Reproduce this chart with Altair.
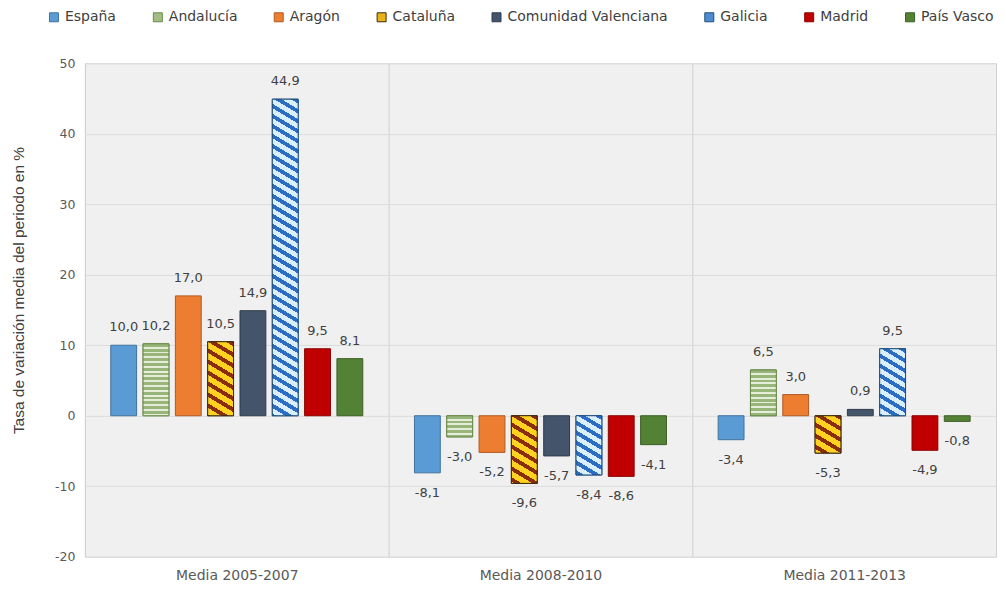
import altair as alt
import pandas as pd

# ---------------- data ----------------
periodos = ["Media 2005-2007", "Media 2008-2010", "Media 2011-2013"]
regiones = ["España", "Andalucía", "Aragón", "Cataluña", "Comunidad Valenciana",
            "Galicia", "Madrid", "País Vasco"]

espana = [10.0, -8.1, -3.4]
andalucia = [10.2, -3.0, 6.5]
aragon = [17.0, -5.2, 3.0]
cataluna = [10.5, -9.6, -5.3]
com_valenciana = [14.9, -5.7, 0.9]
galicia = [44.9, -8.4, 9.5]
madrid = [9.5, -8.6, -4.9]
pais_vasco = [8.1, -4.1, -0.8]

series = [espana, andalucia, aragon, cataluna, com_valenciana, galicia, madrid, pais_vasco]

rows = []
for reg, vals in zip(regiones, series):
    for per, v in zip(periodos, vals):
        rows.append({"periodo": per, "region": reg, "valor": v,
                     "etiqueta": f"{v:.1f}".replace(".", ",")})
df = pd.DataFrame(rows)

# ---------------- styling ----------------
W, H = 912, 494
Y_MIN, Y_MAX = -20, 50
PX_PER_UNIT = H / (Y_MAX - Y_MIN)
O_PI, O_PO = 0.2, 0.8
band = W / 3
ostep = band / (8 - O_PI + 2 * O_PO)
BAR_W = ostep * (1 - O_PI)

legend_fill = ["#5b9bd5", "#a4bd86", "#ed7d31", "#e8b21a", "#44546a",
               "#4f8bd0", "#c00000", "#548235"]
stroke_col = ["#41719c", "#6a8a4a", "#ae5a21", "#3a2a10", "#2f3b4b",
              "#1f4e79", "#8b0000", "#3b5d25"]


def stripe_stops(n, c_dark, c_light, frac):
    stops = []
    i = 0
    while i / n < 1:
        a = i / n
        b = min((i + frac) / n, 1.0)
        c = min((i + 1) / n, 1.0)
        stops += [alt.GradientStop(offset=a, color=c_dark),
                  alt.GradientStop(offset=b, color=c_dark),
                  alt.GradientStop(offset=b, color=c_light),
                  alt.GradientStop(offset=c, color=c_light)]
        i += 1
    return stops


def horiz_gradient(h, period, c_dark, c_light, frac=0.5):
    n = max(h / period, 1)
    return alt.Gradient(gradient="linear", stops=stripe_stops(n, c_dark, c_light, frac),
                        x1=0, y1=0, x2=0, y2=1)


def diag_gradient(w, h, period_v, c_dark, c_light, frac=0.45, s=0.6):
    # stripes going down to the right with slope s (pixel space)
    k = (s * w + h) / (s * s * w * w + h * h)
    a = -s * w * k
    b = h * k
    n = max((s * w + h) / period_v, 1)
    return alt.Gradient(gradient="linear", stops=stripe_stops(n, c_dark, c_light, frac),
                        x1=1, y1=0, x2=1 + a, y2=b)


x_enc = alt.X("periodo:N", sort=periodos,
              scale=alt.Scale(domain=periodos, paddingInner=0, paddingOuter=0),
              axis=alt.Axis(title=None, labelAngle=0, ticks=False, domain=False,
                            labelPadding=12, labelFontSize=14, labelFont="DejaVu Sans",
                            labelColor="#595959", grid=True, gridColor="#d0d0d0",
                            tickBand="extent"))
xo_enc = alt.XOffset("region:N", sort=regiones,
                     scale=alt.Scale(domain=regiones, paddingInner=O_PI, paddingOuter=O_PO))
y_enc = alt.Y("valor:Q",
              scale=alt.Scale(domain=[Y_MIN, Y_MAX], nice=False),
              axis=alt.Axis(values=list(range(Y_MIN, Y_MAX + 1, 10)),
                            labelExpr="replace(datum.label, '\u2212', '-')",
                            title="Tasa de variación media del periodo  en %",
                            titleFont="Liberation Sans", titleFontSize=15.5,
                            titleFontWeight="normal", titleColor="#404040",
                            titleX=-66, titleY=227, titleBaseline="middle",
                            titleAlign="center",
                            labelFont="DejaVu Sans", labelFontSize=12.5,
                            labelColor="#595959", ticks=False, domain=False,
                            labelPadding=10, gridColor="#dcdcdc"))

base = alt.Chart(df).encode(x=x_enc, xOffset=xo_enc, y=y_enc)

bars = base.mark_bar(strokeWidth=1).encode(
    color=alt.Color("region:N", sort=regiones,
                    scale=alt.Scale(domain=regiones, range=legend_fill),
                    legend=alt.Legend(title=None, orient="none", legendX=-38, legendY=-53,
                                      direction="horizontal", columns=8,
                                      symbolType="square", symbolSize=81,
                                      symbolStrokeColor="#555555", symbolStrokeWidth=1,
                                      labelFont="DejaVu Sans", labelFontSize=14,
                                      labelColor="#404040", labelOffset=4,
                                      labelLimit=400,
                                      columnPadding=34, padding=0)),
    stroke=alt.Stroke("region:N", sort=regiones,
                      scale=alt.Scale(domain=regiones, range=stroke_col), legend=None),
)

layers = [bars]
patterns = {
    "Andalucía": lambda w, h: horiz_gradient(h, 4.8, "#98b57a", "#e6eedb", 0.6),
    "Cataluña": lambda w, h: diag_gradient(w, h, 11.0, "#8a2d0c", "#ffd21f", 0.42),
    "Galicia": lambda w, h: diag_gradient(w, h, 10.0, "#2b6cc4", "#d9eeff", 0.45),
}
for reg, vals in zip(regiones, series):
    if reg not in patterns:
        continue
    sc = stroke_col[regiones.index(reg)]
    for per, v in zip(periodos, vals):
        h = abs(v) * PX_PER_UNIT
        grad = patterns[reg](BAR_W, h)
        layers.append(
            base.transform_filter(
                (alt.datum.region == reg) & (alt.datum.periodo == per)
            ).mark_bar(fill=grad, stroke=sc, strokeWidth=1)
        )

txt_style = dict(font="DejaVu Sans", fontSize=13, color="#404040", baseline="alphabetic")
pos_txt = base.transform_filter(alt.datum.valor >= 0).mark_text(dy=-14, **txt_style).encode(
    text="etiqueta:N")
neg_txt = base.transform_filter(alt.datum.valor < 0).mark_text(dy=24, **txt_style).encode(
    text="etiqueta:N")
layers += [pos_txt, neg_txt]

chart = alt.layer(*layers).properties(
    width=W, height=H,
    autosize=alt.AutoSizeParams(type="none"),
    padding={"left": 77, "top": 55, "right": 2, "bottom": 31},
).configure_view(fill="#f0f0f0", stroke="#d9d9d9")

chart.save("out.html", embed_options={"renderer": "svg", "actions": False})
